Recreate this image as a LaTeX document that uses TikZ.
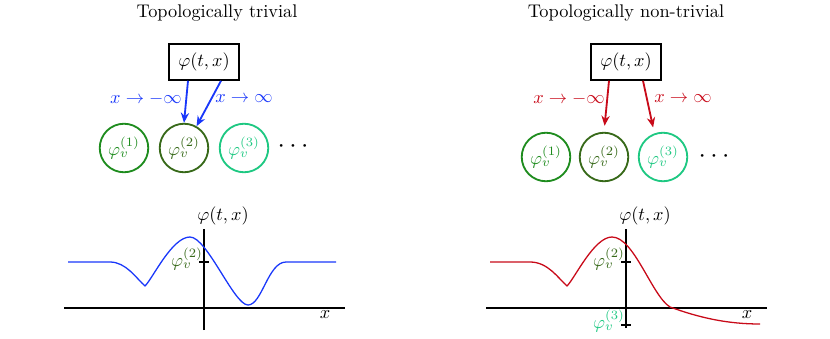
\documentclass[tikz,border=0pt]{standalone}
\usetikzlibrary{calc,arrows.meta}
\definecolor{trivblue}{RGB}{25,55,250}
\definecolor{kinkred}{RGB}{200,10,25}
\definecolor{vacone}{RGB}{30,140,30}
\definecolor{vactwo}{RGB}{55,105,25}
\definecolor{vacthree}{RGB}{30,200,130}

\tikzset{
  fieldbox/.style={draw, line width=1pt, minimum width=38pt, minimum height=19.5pt, inner sep=2pt},
  vacuum/.style={circle, draw, line width=1pt, minimum size=26.5pt, inner sep=0pt},
  limit/.style={line width=1pt, -{Stealth[length=5.5pt,width=4.5pt]}},
  plotaxis/.style={line width=0.6pt},
  profile/.style={line width=0.7pt, line join=round},
}

\begin{document}
\begin{tikzpicture}[x=0.546pt, y=-0.546pt]
  \useasboundingbox (0,0) rectangle (830,338);

  % === left: topologically trivial ===
  \node (L-title) at (217,13) {Topologically trivial};
  \node[fieldbox] (L-box) at (204,62) {$\varphi(t,x)$};
  \node[vacuum, vacone]   (L-v1) at (124,148) {$\varphi_v^{(1)}$};
  \node[vacuum, vactwo]   (L-v2) at (184,148) {$\varphi_v^{(2)}$};
  \node[vacuum, vacthree] (L-v3) at (244,148) {$\varphi_v^{(3)}$};
  \node (L-dots) at (293,147) {\Large$\cdots$};

  \node[trivblue] (L-minus) at (146,99) {$x\to-\infty$};
  \node[trivblue] (L-plus)  at (244,99) {$x\to\infty$};
  \draw[limit, trivblue] ($(L-box.south)+(-16,0)$) -- (L-v2.north);
  \draw[limit, trivblue] ($(L-box.south)+(17,0)$) -- (L-v2.60);

  % --- profile, trivial ---
  \coordinate (L-o) at (204,308);
  \draw[plotaxis] (64,308) -- (345,308);
  \draw[plotaxis] (204,330) -- (204,229);
  \node (L-ylab) at (223,216) {$\varphi(t,x)$};
  \node (L-xlab) at (325,315) {$x$};
  \coordinate (L-t2) at (204,262);
  \draw[plotaxis] ($(L-t2)+(-5,0)$) -- ($(L-t2)+(5,0)$);
  \node[vactwo, anchor=east, inner sep=1pt] (L-t2lab) at (205,259) {$\varphi_v^{(2)}$};

  \draw[profile, trivblue] (68,262) -- (110,262)
    .. controls (126,262) and (136,278) .. (145,286)
    .. controls (153,278) and (172,237) .. (190,237)
    .. controls (207,237) and (234,305) .. (248,305)
    .. controls (262,305) and (268,262) .. (286,262) -- (336,262);

  % === right: topologically non-trivial ===
  \node (R-title) at (626,13) {Topologically non-trivial};
  \node[fieldbox] (R-box) at (626,62) {$\varphi(t,x)$};
  \node[vacuum, vacone]   (R-v1) at (546,157) {$\varphi_v^{(1)}$};
  \node[vacuum, vactwo]   (R-v2) at (604,157) {$\varphi_v^{(2)}$};
  \node[vacuum, vacthree] (R-v3) at (663,157) {$\varphi_v^{(3)}$};
  \node (R-dots) at (714,157) {\Large$\cdots$};

  \node[kinkred] (R-minus) at (569,99) {$x\to-\infty$};
  \node[kinkred] (R-plus)  at (683,99) {$x\to\infty$};
  \draw[limit, kinkred, shorten >=3.3pt] ($(R-box.south)+(-17,0)$) -- (R-v2.north);
  \draw[limit, kinkred, shorten >=3.3pt] ($(R-box.south)+(17,0)$) -- (R-v3.110);

  % --- profile, kink ---
  \coordinate (R-o) at (626,308);
  \draw[plotaxis] (486,308) -- (767,308);
  \draw[plotaxis] (626,328) -- (626,229);
  \node (R-ylab) at (645,216) {$\varphi(t,x)$};
  \node (R-xlab) at (747,315) {$x$};
  \coordinate (R-t2) at (626,262);
  \coordinate (R-t3) at (626,325);
  \draw[plotaxis] ($(R-t2)+(-5,0)$) -- ($(R-t2)+(5,0)$);
  \draw[plotaxis] ($(R-t3)+(-5,0)$) -- ($(R-t3)+(5,0)$);
  \node[vactwo, anchor=east, inner sep=1pt]   (R-t2lab) at (627,259) {$\varphi_v^{(2)}$};
  \node[vacthree, anchor=east, inner sep=1pt] (R-t3lab) at (627,321) {$\varphi_v^{(3)}$};

  \draw[profile, kinkred] (490,262) -- (530,262)
    .. controls (548,262) and (558,278) .. (567,286)
    .. controls (575,278) and (594,237) .. (612,237)
    .. controls (634,237) and (652,296) .. (670,307)
    .. controls (700,318) and (728,324) .. (760,324);
\end{tikzpicture}
\end{document}
